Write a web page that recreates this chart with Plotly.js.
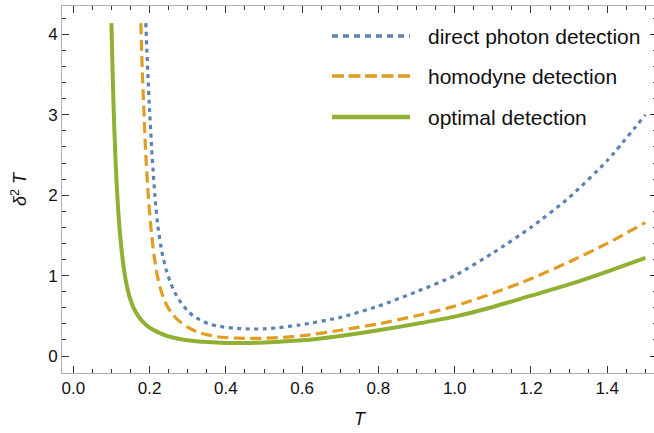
<!DOCTYPE html>
<html><head><meta charset="utf-8">
<script src="https://cdn.plot.ly/plotly-3.0.1.min.js"></script>
<style>html,body{margin:0;padding:0;overflow:hidden;background:#fff}#plot{width:660px;height:433px}</style>
</head><body><div id="plot"></div>
<script>
// ---- data ----
const seriesNames = ["direct photon detection", "homodyne detection", "optimal detection"];

const T_direct = [0.190,0.193,0.196,0.200,0.205,0.210,0.215,0.222,0.232,0.243,0.255,0.265,0.280,0.300,0.314,0.332,0.355,0.376,0.420,0.463,0.500,0.533,0.594,0.700,0.800,0.900,1.000,1.100,1.200,1.300,1.400,1.500];
const v_direct = [4.14,3.78,3.45,3.05,2.62,2.25,1.93,1.60,1.30,1.08,0.91,0.80,0.68,0.56,0.50,0.45,0.40,0.375,0.345,0.336,0.338,0.350,0.386,0.48,0.62,0.80,1.00,1.28,1.60,1.97,2.43,3.00];

const T_homodyne = [0.177,0.180,0.185,0.190,0.197,0.205,0.212,0.219,0.227,0.236,0.245,0.258,0.270,0.284,0.300,0.324,0.350,0.376,0.410,0.450,0.500,0.550,0.600,0.700,0.800,0.900,1.000,1.100,1.200,1.300,1.400,1.500];
const v_homodyne = [4.14,3.66,3.05,2.50,1.96,1.52,1.24,1.03,0.86,0.73,0.63,0.53,0.468,0.41,0.358,0.30,0.266,0.24,0.226,0.22,0.22,0.232,0.252,0.32,0.40,0.50,0.62,0.78,0.96,1.17,1.40,1.66];

const T_optimal = [0.100,0.103,0.106,0.110,0.114,0.118,0.122,0.127,0.133,0.140,0.149,0.160,0.172,0.185,0.200,0.220,0.245,0.275,0.310,0.350,0.400,0.450,0.500,0.600,0.700,0.800,0.900,1.000,1.100,1.200,1.300,1.400,1.500];
const v_optimal = [4.14,3.53,3.03,2.51,2.11,1.79,1.54,1.30,1.07,0.88,0.71,0.58,0.485,0.412,0.352,0.30,0.25,0.215,0.19,0.173,0.162,0.162,0.168,0.195,0.25,0.32,0.40,0.49,0.61,0.75,0.89,1.05,1.22];

const xTickVals = [0.0,0.2,0.4,0.6,0.8,1.0,1.2,1.4];
const xTickText = ["0.0","0.2","0.4","0.6","0.8","1.0","1.2","1.4"];
const yTickVals = [0,1,2,3,4];
const yTickText = ["0","1","2","3","4"];

// ---- styling ----
const colors = ["#5E81B5", "#E19C24", "#8FB032"];
const curveDash = ["4px,4.5px", "11px,5.5px", "solid"];
const curveWidth = [3.2, 3.2, 4];
const legendDash = ["6px,5px", "12px,4.5px", "solid"];

const W = 660, H = 433;
const M = {l: 62, r: 3, t: 6, b: 60};
const pw = W - M.l - M.r, ph = H - M.t - M.b;
const px2paperX = p => (p - M.l) / pw;
const px2paperY = p => (H - M.b - p) / ph;

const xs = [T_direct, T_homodyne, T_optimal];
const ys = [v_direct, v_homodyne, v_optimal];
const traces = xs.map((x, i) => ({
  type: 'scatter', mode: 'lines', x: x, y: ys[i], name: seriesNames[i],
  line: {color: colors[i], width: curveWidth[i], dash: curveDash[i], shape: 'spline', smoothing: 0.6},
  showlegend: false, hoverinfo: 'skip'
}));

// legend (manual, to match long line samples)
const legRowsY = [36, 76, 117];
const shapes = [], annotations = [];
seriesNames.forEach((n, i) => {
  shapes.push({type: 'line', xref: 'paper', yref: 'paper',
    x0: px2paperX(332), x1: px2paperX(410), y0: px2paperY(legRowsY[i]), y1: px2paperY(legRowsY[i]),
    line: {color: colors[i], width: i === 2 ? 4.3 : 3.3, dash: legendDash[i]}});
  annotations.push({xref: 'paper', yref: 'paper', x: px2paperX(426), y: px2paperY(legRowsY[i]),
    xanchor: 'left', yanchor: 'middle', showarrow: false, text: n,
    font: {family: 'Liberation Sans, Arial, sans-serif', size: 21, color: '#111'}});
});

const axisCommon = {
  showgrid: false, zeroline: false, showline: true, linecolor: '#b0b0b0', linewidth: 1,
  mirror: 'ticks', ticks: 'inside', ticklen: 7, tickwidth: 1, tickcolor: '#333',
  tickfont: {family: 'Liberation Sans, Arial, sans-serif', size: 17, color: '#111'},
  tickmode: 'array'
};

const layout = {
  width: W, height: H, margin: M, paper_bgcolor: '#fff', plot_bgcolor: '#fff',
  showlegend: false,
  xaxis: Object.assign({}, axisCommon, {
    range: [-0.0297, 1.5305], tickvals: xTickVals, ticktext: xTickText,
    minor: {dtick: 0.05, tick0: 0, ticks: 'inside', ticklen: 4, tickcolor: '#333', tickwidth: 1, showgrid: false},
    title: {text: '<i>T</i>', font: {family: 'Liberation Sans, Arial, sans-serif', size: 18, color: '#111'}, standoff: 14}
  }),
  yaxis: Object.assign({}, axisCommon, {
    range: [-0.2114, 4.353], tickvals: yTickVals, ticktext: yTickText,
    minor: {dtick: 0.2, tick0: 0, ticks: 'inside', ticklen: 4, tickcolor: '#333', tickwidth: 1, showgrid: false},
    title: {text: '<i>δ</i><sup>2</sup> <i>T</i>', font: {family: 'Liberation Sans, Arial, sans-serif', size: 18, color: '#111'}, standoff: 16}
  }),
  shapes: shapes, annotations: annotations
};

Plotly.newPlot('plot', traces, layout, {staticPlot: true, displayModeBar: false});
</script>
</body></html>
